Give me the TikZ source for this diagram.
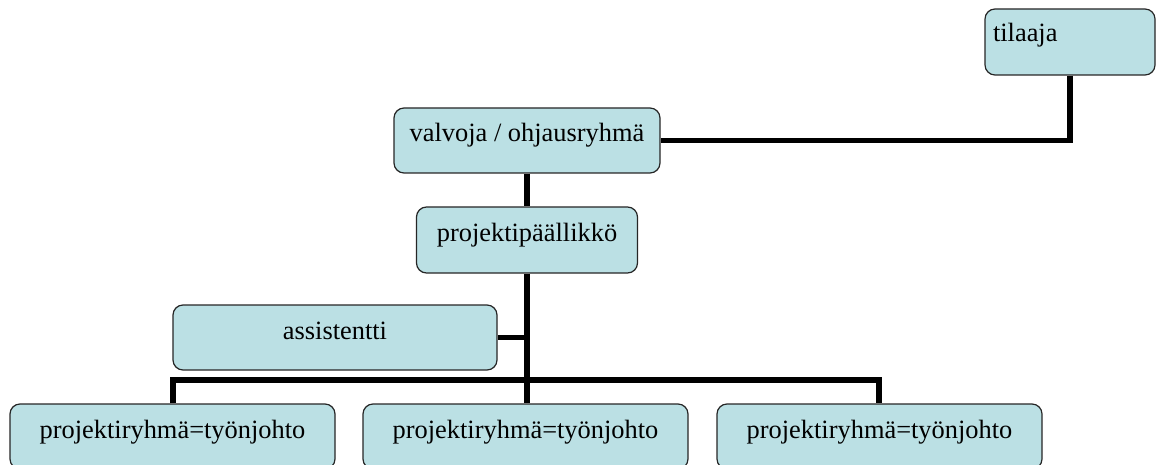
\documentclass[tikz,border=0pt]{standalone}
\usepackage{fontspec}
\setmainfont{Liberation Serif}
\usetikzlibrary{positioning,calc}
\definecolor{boxfill}{RGB}{187,224,228}

\begin{document}
\begin{tikzpicture}[
    x=1pt, y=-1pt,
    font=\fontsize{26.4}{30}\selectfont,
    box/.style={rectangle, rounded corners=10pt, draw=black!85, line width=1.2pt, fill=boxfill, inner sep=0pt, minimum height=65pt, text height=0.7em, text depth=0.3em, text centered},
    link/.style={line width=5.5pt, line cap=butt}
]
    \useasboundingbox (0,0) rectangle (1156,465);

    \node[box, minimum width=170pt, minimum height=66pt, text width=154pt, align=left, text depth=0.85em] (tilaaja) at (1070,42) {tilaaja};
    \node[box, minimum width=266pt, text depth=0.55em] (valvoja) at (527,140.5) {valvoja / ohjausryhmä};
    \node[box, minimum width=221pt, minimum height=66pt, text depth=0.47em] (pp) at (527,240) {projektipäällikkö};
    \node[box, minimum width=324pt] (assist) at (335,337.5) {assistentti};
    \node[box, minimum width=325pt] (team1) at (172.5,436.5) {projektiryhmä=työnjohto};
    \node[box, minimum width=325pt] (team2) at (525.5,436.5) {projektiryhmä=työnjohto};
    \node[box, minimum width=325pt] (team3) at (879.5,436.5) {projektiryhmä=työnjohto};
    \coordinate (bar) at (527,380);

    \draw[link] (tilaaja.south) |- (valvoja.east);
    \draw[link] (valvoja.south) -- (pp.north);
    \draw[link] (pp.south) -- (pp.south |- team2.north);
    \draw[link] (assist.east) -- (assist.east -| pp.south);
    \draw[link] (team1.north -| 173,0) |- (bar) -| (team3.north -| 879,0);
\end{tikzpicture}
\end{document}
